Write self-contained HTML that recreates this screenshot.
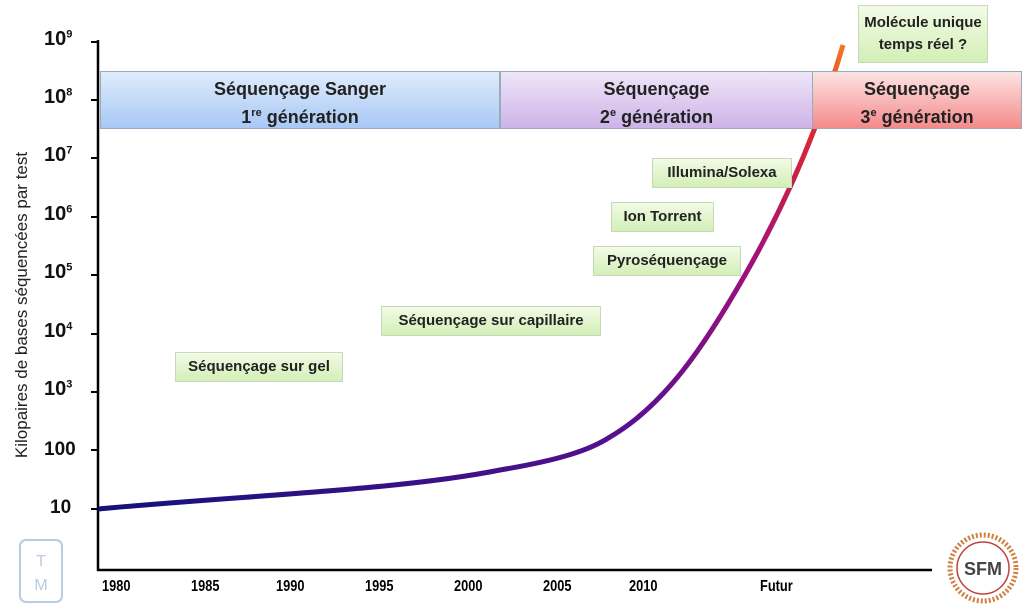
<!DOCTYPE html>
<html><head><meta charset="utf-8"><style>
body{margin:0;background:#fff;width:1024px;height:612px;overflow:hidden;position:relative;font-family:"Liberation Sans",sans-serif}
.t{position:absolute;font-weight:bold;color:#111}
.gen{position:absolute;top:71px;height:58px;border:1px solid #9ab;box-sizing:border-box;text-align:center;font-size:18px;font-weight:bold;color:#222;line-height:24px;padding-top:5px}
.lab{position:absolute;background:linear-gradient(#f2fbe6,#d3efb7);border:1px solid #c8d8b8;font-size:15px;font-weight:bold;color:#222;text-align:center;box-sizing:border-box;line-height:28px}
sup{font-size:11px}
.x{position:absolute;top:578px;font-size:16px;font-weight:bold;transform:scaleX(.8);transform-origin:left}
</style></head><body>
<svg width="1024" height="612" style="position:absolute;left:0;top:0">
<defs><linearGradient id="g" x1="0" y1="1" x2="1" y2="0" gradientUnits="objectBoundingBox">
<stop offset="0" stop-color="#14127a"/><stop offset=".45" stop-color="#5a0f90"/><stop offset=".7" stop-color="#a0107a"/><stop offset=".9" stop-color="#e02a30"/><stop offset="1" stop-color="#f07a20"/></linearGradient></defs>
<line x1="98" y1="40" x2="98" y2="571" stroke="#000" stroke-width="2.5"/>
<line x1="97" y1="570" x2="932" y2="570" stroke="#000" stroke-width="2.5"/>
<g stroke="#000" stroke-width="2">
<line x1="91" y1="42" x2="98" y2="42"/><line x1="91" y1="100" x2="98" y2="100"/><line x1="91" y1="158" x2="98" y2="158"/><line x1="91" y1="217" x2="98" y2="217"/><line x1="91" y1="275" x2="98" y2="275"/><line x1="91" y1="334" x2="98" y2="334"/><line x1="91" y1="392" x2="98" y2="392"/><line x1="91" y1="450" x2="98" y2="450"/><line x1="91" y1="509" x2="98" y2="509"/></g>
<path d="M98,509 C250,495 400,490 500,470 C560,460 590,450 610,437 C665,405 705,345 745,275 C785,205 818,130 843,45" fill="none" stroke="url(#g)" stroke-width="5"/>
<rect x="20" y="540" width="42" height="62" rx="6" fill="none" stroke="#b8cce4" stroke-width="2"/>
<text x="41" y="590" font-size="16" fill="#b8cce4" text-anchor="middle" font-family="Liberation Sans">M</text>
<text x="41" y="566" font-size="16" fill="#b8cce4" text-anchor="middle" font-family="Liberation Sans">T</text>
<circle cx="983" cy="568" r="33" fill="none" stroke="#d08040" stroke-width="5" stroke-dasharray="2 2"/>
<circle cx="983" cy="568" r="26" fill="#fff" stroke="#c04040" stroke-width="1.5"/>
<text x="983" y="575" font-size="18" font-weight="bold" fill="#444" text-anchor="middle" font-family="Liberation Sans">SFM</text>
</svg>
<div class="t" style="left:44px;top:28px;font-size:20px">10<sup>9</sup></div>
<div class="t" style="left:44px;top:86px;font-size:20px">10<sup>8</sup></div>
<div class="t" style="left:44px;top:144px;font-size:20px">10<sup>7</sup></div>
<div class="t" style="left:44px;top:203px;font-size:20px">10<sup>6</sup></div>
<div class="t" style="left:44px;top:261px;font-size:20px">10<sup>5</sup></div>
<div class="t" style="left:44px;top:320px;font-size:20px">10<sup>4</sup></div>
<div class="t" style="left:44px;top:378px;font-size:20px">10<sup>3</sup></div>
<div class="t" style="left:44px;top:439px;font-size:19px">100</div>
<div class="t" style="left:50px;top:497px;font-size:19px">10</div>
<div style="position:absolute;left:22px;top:305px;width:0;height:0"><div style="position:absolute;transform:translate(-50%,-50%) rotate(-90deg);white-space:nowrap;font-size:17px;color:#222">Kilopaires de bases séquencées par test</div></div>
<div class="gen" style="left:100px;width:400px;background:linear-gradient(#e0ecfb,#a8c8f5)">Séquençage Sanger<br>1<sup>re</sup> génération</div>
<div class="gen" style="left:500px;width:313px;background:linear-gradient(#efe6f8,#cdb3e8)">Séquençage<br>2<sup>e</sup> génération</div>
<div class="gen" style="left:812px;width:210px;background:linear-gradient(#fde4e4,#f48a8a)">Séquençage<br>3<sup>e</sup> génération</div>
<div class="lab" style="left:858px;top:5px;width:130px;height:58px;line-height:22px;padding-top:6px">Molécule unique<br>temps réel ?</div>
<div class="lab" style="left:652px;top:158px;width:140px;height:30px">Illumina/Solexa</div>
<div class="lab" style="left:611px;top:202px;width:103px;height:30px">Ion Torrent</div>
<div class="lab" style="left:593px;top:246px;width:148px;height:30px">Pyroséquençage</div>
<div class="lab" style="left:381px;top:306px;width:220px;height:30px">Séquençage sur capillaire</div>
<div class="lab" style="left:175px;top:352px;width:168px;height:30px">Séquençage sur gel</div>
<div class="x" style="left:102px">1980</div>
<div class="x" style="left:191px">1985</div>
<div class="x" style="left:276px">1990</div>
<div class="x" style="left:365px">1995</div>
<div class="x" style="left:454px">2000</div>
<div class="x" style="left:543px">2005</div>
<div class="x" style="left:629px">2010</div>
<div class="x" style="left:760px">Futur</div>
</body></html>
